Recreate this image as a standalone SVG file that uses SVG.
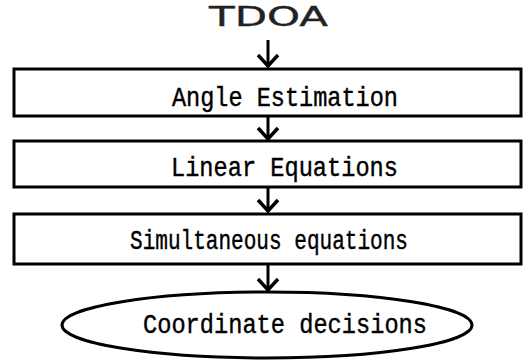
<svg xmlns="http://www.w3.org/2000/svg" width="527" height="362" viewBox="0 0 527 362">
<style>
.box{fill:#fff;stroke:#000;stroke-width:3}
.lbl{font-family:"Liberation Mono","DejaVu Sans Mono",monospace;font-size:27px;fill:#000;stroke:#000;stroke-width:0.4}
.conn{stroke:#000;stroke-width:3;fill:none}
.head{stroke:#000;stroke-width:3.5;fill:none;stroke-linejoin:miter}
</style>
<rect width="527" height="362" fill="#fff"/>
<g id="tdoa">
<text x="209" y="26" font-family="'DejaVu Sans',sans-serif" font-size="26" fill="#222" stroke="#222" stroke-width="0.35" textLength="119" lengthAdjust="spacingAndGlyphs">TDOA</text>
</g>
<g id="connectors">
<line class="conn" x1="268" y1="40" x2="268" y2="67"/>
<polyline class="head" points="258,55 268,66 278,55"/>
<line class="conn" x1="268" y1="117" x2="268" y2="140"/>
<polyline class="head" points="258,128 268,139 278,128"/>
<line class="conn" x1="268" y1="188" x2="268" y2="212"/>
<polyline class="head" points="258,200 268,211 278,200"/>
<line class="conn" x1="268" y1="265" x2="268" y2="291"/>
<polyline class="head" points="258,279 268,290 278,279"/>
</g>
<g id="angle">
<rect class="box" x="14" y="69" width="507" height="47"/>
<text class="lbl" x="172" y="106" textLength="226" lengthAdjust="spacingAndGlyphs">Angle Estimation</text>
</g>
<g id="linear">
<rect class="box" x="14" y="141" width="507" height="46"/>
<text class="lbl" x="171" y="176" textLength="227" lengthAdjust="spacingAndGlyphs">Linear Equations</text>
</g>
<g id="simul">
<rect class="box" x="14" y="214" width="507" height="50"/>
<text class="lbl" x="130" y="249" font-size="29" textLength="278" lengthAdjust="spacingAndGlyphs">Simultaneous equations</text>
</g>
<g id="coord">
<ellipse class="box" cx="267" cy="325" rx="205" ry="33"/>
<text class="lbl" x="143" y="333" textLength="284" lengthAdjust="spacingAndGlyphs">Coordinate decisions</text>
</g>
</svg>
